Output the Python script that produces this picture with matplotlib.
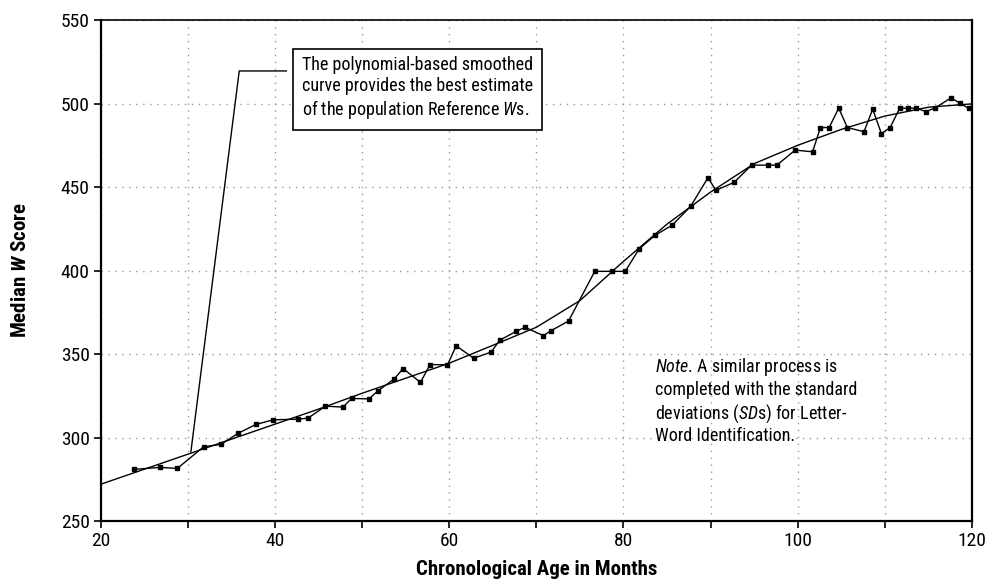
import numpy as np
import matplotlib
matplotlib.use("Agg")
import matplotlib.pyplot as plt
from matplotlib import font_manager
from matplotlib.ticker import MultipleLocator

# observed median W scores by age (months)
ages = [23.8, 26.8, 28.8, 31.8, 33.8, 35.8, 37.8, 39.8, 42.7, 43.8,
        45.8, 47.8, 48.8, 50.8, 51.8, 53.7, 54.7, 56.7, 57.8, 59.8,
        60.8, 62.8, 64.8, 65.8, 67.7, 68.7, 70.8, 71.7, 73.7, 76.7,
        78.7, 80.2, 81.8, 83.6, 85.6, 87.7, 89.7, 90.6, 92.7, 94.7,
        96.6, 97.6, 99.7, 101.7, 102.6, 103.6, 104.7, 105.7, 107.6, 108.6,
        109.6, 110.6, 111.7, 112.7, 113.6, 114.7, 115.7, 117.6, 118.6, 119.6]
median_w = [280.9, 282.1, 281.5, 294.4, 295.9, 302.6, 307.8, 310.6, 311.0, 311.6,
            318.8, 318.2, 323.4, 323.1, 327.9, 335.1, 341.3, 333.0, 343.7, 343.5,
            354.9, 347.5, 351.1, 358.3, 363.6, 366.0, 361.0, 364.0, 369.8, 399.5,
            399.5, 399.5, 413.0, 421.0, 427.2, 438.4, 455.6, 448.0, 452.8, 463.1,
            463.1, 463.1, 472.1, 471.1, 485.6, 485.6, 497.2, 485.6, 483.1, 496.6,
            482.0, 485.6, 497.2, 497.2, 497.2, 495.2, 497.2, 503.4, 500.2, 497.2]

# smoothed (polynomial) curve
curve_ages = [20, 25, 30, 35, 40, 45, 50, 55, 60, 65, 70,
              75, 80, 85, 90, 95, 100, 105, 110, 115, 120]
curve_w = [272.0, 281.0, 290.0, 299.0, 308.0, 317.0, 326.5, 335.5, 344.5, 355.2, 366.0,
           382.0, 405.5, 427.8, 447.0, 464.0, 475.0, 484.5, 492.5, 497.8, 499.8]

# pick a condensed face if there is one
installed = {f.name for f in font_manager.fontManager.ttflist}
font = "Liberation Sans"
for name in ["Liberation Sans Narrow", "Roboto Condensed", "DejaVu Sans Condensed",
             "Open Sans Condensed", "Noto Sans Condensed"]:
    if name in installed:
        font = name
        break
narrow = font != "Liberation Sans"

plt.rcParams["font.family"] = [font, "DejaVu Sans"]
plt.rcParams["mathtext.fontset"] = "custom"
plt.rcParams["mathtext.rm"] = font
plt.rcParams["mathtext.it"] = font + ":italic"
plt.rcParams["mathtext.bf"] = font + ":bold"
plt.rcParams["mathtext.bfit"] = font + ":italic:bold"

fs_note = 13 if narrow else 11.5
fs_tick = 14 if narrow else 12
fs_label = 15 if narrow else 13

fig = plt.figure(figsize=(9.94, 5.82), dpi=100)
ax = fig.add_axes([0.1013, 0.1048, 0.8766, 0.8608])

ax.plot(curve_ages, curve_w, color="black", lw=1.0, zorder=3)
ax.plot(ages, median_w, color="black", lw=1.0, marker="s", markersize=3.2, zorder=4)

ax.set_xlim(20, 120)
ax.set_ylim(250, 550)
ax.xaxis.set_major_locator(MultipleLocator(20))
ax.xaxis.set_minor_locator(MultipleLocator(10))
ax.yaxis.set_major_locator(MultipleLocator(50))
ax.grid(True, which="both", axis="x", color="#9a9a9a", lw=1, linestyle=(0, (1, 4)))
ax.grid(True, which="major", axis="y", color="#9a9a9a", lw=1, linestyle=(0, (1, 4)))
ax.tick_params(axis="both", which="major", direction="out", length=5, width=1.2,
               labelsize=fs_tick, colors="black", pad=3)
ax.tick_params(axis="x", which="minor", direction="out", length=5, width=1.2)
for s in ax.spines.values():
    s.set_linewidth(1.6)
ax.spines["top"].set_linewidth(1.2)

ax.set_xlabel("Chronological Age in Months", fontsize=fs_label, fontweight="bold", labelpad=7)
ax.set_ylabel(r"Median $\mathbfit{W}$ Score", fontsize=fs_label, fontweight="bold", labelpad=22)

# callout box with leader line
ax.text(43.1, 509, "The polynomial-based smoothed\ncurve provides the best estimate\n"
        r"of the population Reference $\mathit{W}$s.",
        fontsize=fs_note, ha="left", va="center", linespacing=1.2,
        bbox=dict(boxstyle="square,pad=0.5", fc="white", ec="black", lw=1.2), zorder=6)
ax.plot([41.3, 35.9, 30.35], [519.5, 519.5, 291.4], color="black", lw=1.0, zorder=5)

ax.text(83.6, 322, r"$\mathit{Note}$. A similar process is" "\n"
        "completed with the standard\n"
        r"deviations ($\mathit{SD}$s) for Letter-" "\n"
        "Word Identification.",
        fontsize=fs_note, ha="left", va="center", linespacing=1.2, zorder=6)

fig.savefig("out.png", dpi=100)
